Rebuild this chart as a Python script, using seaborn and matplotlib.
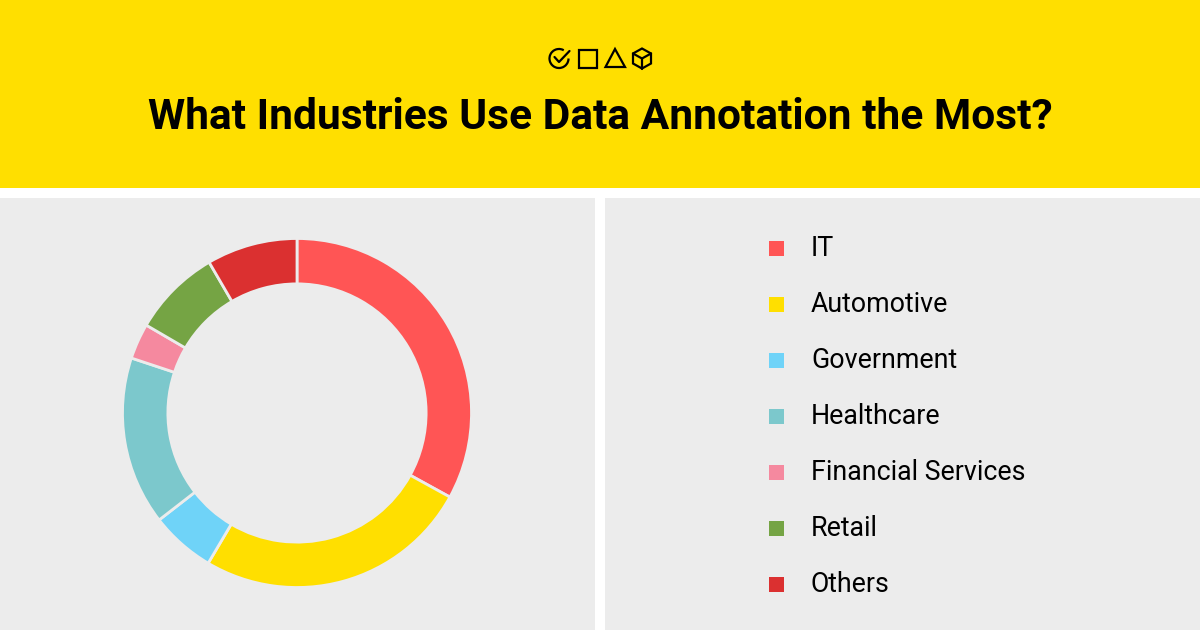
import matplotlib
matplotlib.use("Agg")
import matplotlib.pyplot as plt
import matplotlib.patches as mpatches
import seaborn as sns

industries = ["IT", "Automotive", "Government", "Healthcare", "Financial Services", "Retail", "Others"]
shares = [33, 25.5, 6, 15.6, 3.3, 8.2, 8.4]
colors = ["#FF5555", "#FFDF00", "#6FD3F8", "#7CC8CC", "#F5899F", "#75A444", "#DB3030"]
title = "What Industries Use Data Annotation the Most?"

sns.set_theme(style="white")
plt.rcParams["font.family"] = ["Roboto", "DejaVu Sans"]

W, H = 1200, 630
fig = plt.figure(figsize=(W / 100, H / 100), dpi=100, facecolor="white")


def box(x0, y0, x1, y1):
    # pixel box, top left origin
    return [x0 / W, 1 - y1 / H, (x1 - x0) / W, (y1 - y0) / H]


# header
top = fig.add_axes(box(0, 0, 1200, 188), facecolor="#FFDF00")
top.set_xticks([])
top.set_yticks([])
sns.despine(ax=top, left=True, bottom=True)
top.set_xlim(0, 1200)
top.set_ylim(188, 0)
top.text(600, 129, title, ha="center", va="baseline", fontsize=30.6, fontweight="bold", color="black")

# small icons above title
lw = 1.6
check = mpatches.Arc((559, 58.5), 19, 19, angle=0, theta1=0, theta2=300, ec="black", lw=lw)
top.add_patch(check)
top.plot([554.5, 559, 569.5], [57, 62, 51], color="black", lw=lw)
top.add_patch(mpatches.Rectangle((579, 49.5), 18, 18, fill=False, ec="black", lw=lw))
top.add_patch(mpatches.Polygon([(615, 49), (605.5, 67), (625, 67)], closed=True, fill=False, ec="black", lw=lw))
top.add_patch(mpatches.Polygon([(642, 48.5), (651, 53.5), (651, 63.5), (642, 68.5), (633, 63.5), (633, 53.5)], closed=True, fill=False, ec="black", lw=lw))
top.plot([633, 642, 651], [53.5, 58.5, 53.5], color="black", lw=lw)
top.plot([642, 642], [58.5, 68.5], color="black", lw=lw)

# donut panel
left = fig.add_axes(box(0, 198, 595, 630), facecolor="#ECECEC")
left.set_xticks([])
left.set_yticks([])
sns.despine(ax=left, left=True, bottom=True)

donut = fig.add_axes(box(122.5, 238.5, 471.5, 587.5))
donut.pie(shares, colors=colors, startangle=90, counterclock=False, radius=1,
          wedgeprops=dict(width=0.26, edgecolor="#ECECEC", linewidth=2))
donut.set_xlim(-1, 1)
donut.set_ylim(-1, 1)
donut.axis("off")

# legend panel
right = fig.add_axes(box(605, 198, 1200, 630), facecolor="#ECECEC")
right.set_xlim(605, 1200)
right.set_ylim(630, 198)
right.set_xticks([])
right.set_yticks([])
sns.despine(ax=right, left=True, bottom=True)

for i, (name, c) in enumerate(zip(industries, colors)):
    y = 248 + 56 * i
    right.add_patch(mpatches.Rectangle((769, y - 7.5), 15, 15, color=c, lw=0))
    right.text(811, y + 8, name, ha="left", va="baseline", fontsize=19.3, color="black")

fig.savefig("out.png", dpi=100, facecolor="white")
